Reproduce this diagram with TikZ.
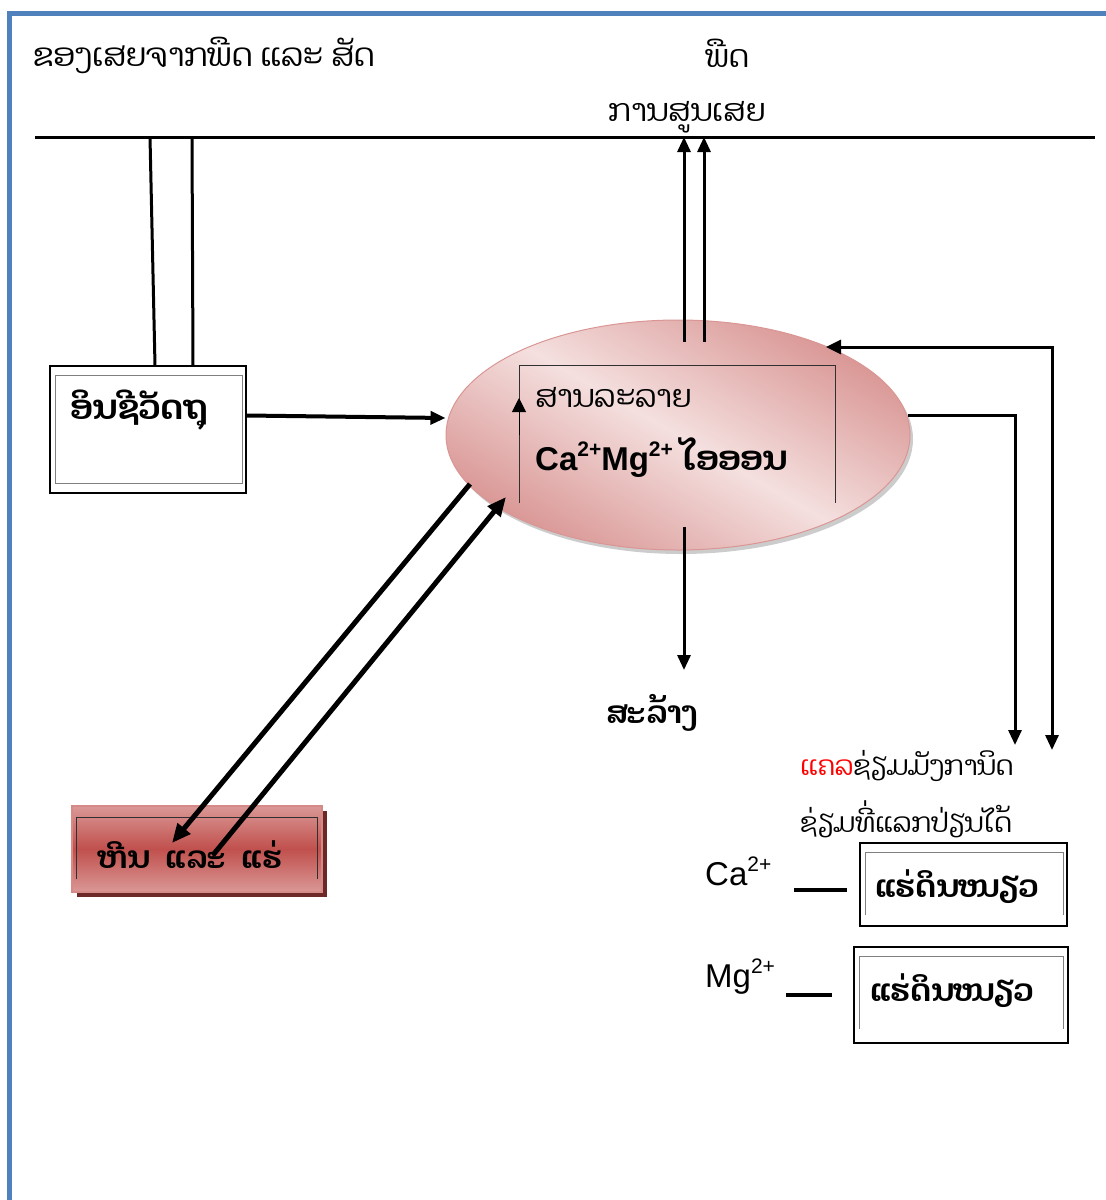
\documentclass[tikz,border=0pt]{standalone}
\usepackage{fontspec}
\setmainfont{Liberation Sans}
\newfontfamily\laofont[Script=Lao]{Dhyana}
\usepackage{xcolor}
\usepackage{tikz}
\usetikzlibrary{
  positioning, arrows.meta, shapes.geometric, shadows, calc
}
\definecolor{scblue}{HTML}{4F81BD}
\definecolor{scpinklt}{HTML}{F4E0DF}
\definecolor{scpinkdk}{HTML}{D99694}
\definecolor{scred}{HTML}{C0504D}
\definecolor{scredlt}{HTML}{DA9896}
\definecolor{scshadow}{HTML}{6B2826}
\definecolor{scgray}{HTML}{808080}
\definecolor{scdark}{HTML}{303030}
\newcommand\chg[1]{\raisebox{0.42em}{\fontsize{21}{22}\selectfont #1}}

\begin{document}
\begin{tikzpicture}[
  x=1pt, y=-1pt,
  lao/.style={font=\laofont\fontsize{31}{36}\selectfont, inner sep=0pt},
  laob/.style={font=\laofont\bfseries\fontsize{31}{36}\selectfont, inner sep=0pt},
  ion/.style={font=\fontsize{33}{36}\selectfont, inner sep=0pt},
  box/.style={
    rectangle, draw, line width=1.5pt, fill=white, inner sep=0pt
  },
  inframe/.style={draw=scgray, line width=1pt},
  line/.style={line width=3pt},
  arr/.style={-{Triangle[length=15pt,width=13pt]}, line width=3pt},
  bigarr/.style={-{Triangle[length=19pt,width=16pt]}, line width=5pt},
]
\useasboundingbox (0,0) rectangle (1106,1200);

% Frame
\draw[scblue, line width=5pt] (9,1200) -- (9,13) -- (1106,13);

% Top labels and ground line
\node[lao, font=\laofont\fontsize{32}{36}\selectfont, anchor=west] (waste) at (33,55) {ຂອງເສຍຈາກພືດ ແລະ ສັດ};
\node[lao] (plant) at (727,53) {ພືດ};
\node[lao] (loss) at (687,117) {ການສູນເສຍ};
\coordinate (topL) at (35,137);
\coordinate (topR) at (1095,137);
\draw[line] (topL) -- (topR);

% Solution (center)
\node[ellipse, minimum width=464pt, minimum height=230pt,
  draw=scpinkdk, line width=1pt,
  left color=scpinkdk, right color=scpinkdk, middle color=scpinklt,
  shading angle=-30,
  drop shadow={shadow xshift=3pt, shadow yshift=-4pt, fill=black!40}]
  (sol) at (678,435) {};
\draw[scdark, line width=1pt]
  ([shift={(-159,68)}]sol.center) -- ([shift={(-159,-70)}]sol.center)
  -- ([shift={(157,-70)}]sol.center) -- ([shift={(157,68)}]sol.center);
\draw[black, line width=1pt, -{Triangle[length=14pt,width=14pt]}]
  ([shift={(-159,0)}]sol.center) -- ([shift={(-159,-37)}]sol.center);
\node[lao, anchor=west] (soltxt) at (535,397) {ສານລະລາຍ};
\node[ion, font=\bfseries\fontsize{33}{36}\selectfont, anchor=base west] (iontxt) at (535,470)
  {Ca\chg{2+}Mg\chg{2+} {\laofont\fontsize{34}{36}\selectfont ໄອອອນ}};

% Organic matter
\node[box, minimum width=196pt, minimum height=127pt] (org) at (148,429.5) {};
\draw[inframe] ([shift={(6,10)}]org.north west) rectangle ([shift={(-4,-10)}]org.south east);
\node[laob, font=\laofont\bfseries\fontsize{34}{38}\selectfont, anchor=west] (orgtxt) at (70,410) {ອິນຊີວັດຖຸ};

% Rocks and minerals
\node[rectangle, minimum width=250pt, minimum height=86pt, inner sep=0pt,
  draw=scredlt!80!scred, line width=1.5pt,
  top color=scredlt, bottom color=scredlt, middle color=scred,
  drop shadow={shadow xshift=5pt, shadow yshift=-5pt, fill=scshadow, opacity=1}]
  (rock) at (197,849) {};
\draw[scdark, line width=1pt]
  ([shift={(5,74)}]rock.north west) -- ([shift={(5,12)}]rock.north west)
  -- ([shift={(-5,12)}]rock.north east) -- ([shift={(-5,74)}]rock.north east);
\node[laob] (rocktxt) at (190,855) {ຫີນ~~ແລະ~~ແຮ່};

% Leaching
\node[laob] (wash) at (652,713) {ສະລ້າງ};

% Exchangeable calcium / magnesium
\node[lao, font=\laofont\fontsize{27}{32}\selectfont, anchor=north west, align=left] (exch) at (800,750)
  {{\color{red}ແຄລ}ຊ່ຽມມັງການິດ\\[18pt]ຊ່ຽມທີ່ແລກປ່ຽນໄດ້};
\coordinate (exchA) at (1015,745);
\coordinate (exchB) at (1052,750);

\node[box, minimum width=207pt, minimum height=83pt] (clay1) at (963.5,884.5) {};
\draw[inframe]
  ([shift={(6,73)}]clay1.north west) -- ([shift={(6,10)}]clay1.north west)
  -- ([shift={(-4,10)}]clay1.north east) -- ([shift={(-4,73)}]clay1.north east);
\node[laob] (clay1txt) at (957,887) {ແຮ່ດິນໜຽວ};

\node[box, minimum width=214pt, minimum height=96pt] (clay2) at (961,995) {};
\draw[inframe]
  ([shift={(6,83)}]clay2.north west) -- ([shift={(6,10)}]clay2.north west)
  -- ([shift={(-5,10)}]clay2.north east) -- ([shift={(-5,83)}]clay2.north east);
\node[laob] (clay2txt) at (952,991) {ແຮ່ດິນໜຽວ};

\node[ion, anchor=base west] (ca) at (705,885) {Ca\chg{2+}};
\node[ion, anchor=base west] (mg) at (705,987) {Mg\chg{2+}};

% Arrows
\draw[line] ([xshift=7pt]org.north) -- ([xshift=115pt]topL);
\draw[line] ([xshift=45pt]org.north) -- ([xshift=157pt]topL);
\draw[arr, line width=4pt] ([yshift=14pt]org.east) -- ([yshift=17pt]sol.west);
\coordinate (up1) at ([shift={(6,-93)}]sol.center);
\coordinate (up2) at ([shift={(26,-93)}]sol.center);
\draw[arr] (up1) -- (up1 |- topL);
\draw[arr] (up2) -- (up2 |- topL);
\draw[arr] ([shift={(6,92)}]sol.center) -- ([shift={(32,-43)}]wash.center);
\draw[bigarr] ([shift={(-208,49)}]sol.center) -- ([shift={(-25,-6)}]rock.center);
\draw[bigarr] ([shift={(16,6)}]rock.center) -- ([shift={(-172,62)}]sol.center);
\draw[line, -{Triangle[length=15pt,width=13pt]}]
  ([shift={(230,-20)}]sol.center) -| (exchA);
\draw[line, {Triangle[length=15pt,width=14pt]}-{Triangle[length=15pt,width=13pt]}]
  ([shift={(148,-88)}]sol.center) -| (exchB);
\draw[line width=4pt] ([shift={(-65,5)}]clay1.west) -- ([shift={(-12,5)}]clay1.west);
\draw[line width=4pt] ([shift={(-67,0)}]clay2.west) -- ([shift={(-21,0)}]clay2.west);

\end{tikzpicture}
\end{document}
